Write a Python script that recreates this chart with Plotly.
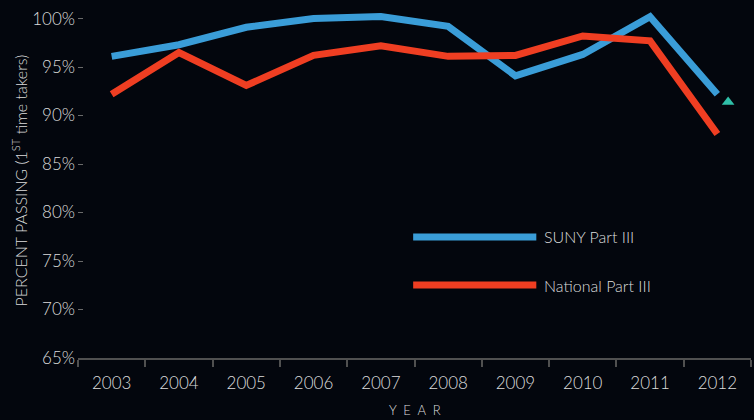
import plotly.graph_objects as go

# Data
years = [2003, 2004, 2005, 2006, 2007, 2008, 2009, 2010, 2011, 2012]
suny_pass = [96.1, 97.3, 99.1, 100.0, 100.2, 99.2, 94.1, 96.3, 100.2, 92.2]
national_pass = [92.2, 96.5, 93.1, 96.2, 97.2, 96.1, 96.2, 98.2, 97.7, 88.1]
marker_year = [2012]
marker_pass = [91.4]
y_ticks = [65, 70, 75, 80, 85, 90, 95, 100]
suny_name = "SUNY Part III"
national_name = "National Part III"

BG = "#03060d"
BLUE = "#3a9dd8"
RED = "#ef3e22"
TEAL = "#2fbfa8"
TEXT = "#dcdcdc"
FONT = "Lato"

fig = go.Figure()

fig.add_trace(go.Scatter(
    x=years, y=suny_pass, mode="lines", name=suny_name,
    line=dict(color=BLUE, width=7)
))
fig.add_trace(go.Scatter(
    x=years, y=national_pass, mode="lines", name=national_name,
    line=dict(color=RED, width=7)
))
# small triangle sits just right of the 2012 point
fig.add_trace(go.Scatter(
    x=[y + 0.16 for y in marker_year], y=marker_pass, mode="markers",
    marker=dict(symbol="triangle-up", size=11, color=TEAL),
    showlegend=False
))

# Legend drawn by hand (long line samples)
legend_items = [(suny_name, BLUE, 0.342), (national_name, RED, 0.206)]
for name, color, ypos in legend_items:
    fig.add_shape(type="line", xref="paper", yref="paper",
                  x0=0.498, x1=0.681, y0=ypos, y1=ypos,
                  line=dict(color=color, width=7))
    fig.add_annotation(text=name, xref="paper", yref="paper",
                       x=0.690, y=ypos, xanchor="left", yanchor="middle",
                       showarrow=False,
                       font=dict(family=FONT, size=16, color=TEXT, weight=300))

# Axis titles
fig.add_annotation(text="PERCENT PASSING (1<sup>ST</sup> time takers)",
                   xref="paper", yref="paper", x=0, y=0.5, xshift=-71,
                   textangle=-90, showarrow=False,
                   font=dict(family=FONT, size=16, color=TEXT, weight=300))
fig.add_annotation(text="Y  E  A  R", xref="paper", yref="paper",
                   x=0.5, y=0, yshift=-52, yanchor="middle",
                   showarrow=False,
                   font=dict(family=FONT, size=13, color=TEXT, weight=300))

fig.update_layout(
    width=754, height=420,
    margin=dict(l=78, r=3, t=4, b=62),
    paper_bgcolor=BG, plot_bgcolor=BG,
    showlegend=False,
    font=dict(family=FONT, color=TEXT, weight=300),
    xaxis=dict(
        range=[2002.5, 2012.5],
        tickvals=years, ticktext=[str(y) for y in years],
        ticks="", showgrid=False, zeroline=False,
        showline=True, linecolor="#505050", linewidth=1.5,
        tickfont=dict(family=FONT, size=17, color=TEXT, weight=300),
        ticklabelstandoff=9,
        minor=dict(tick0=2002.5, dtick=1, ticks="outside", ticklen=7,
                   tickcolor="#505050", tickwidth=1.5, showgrid=False),
    ),
    yaxis=dict(
        range=[65, 101.5],
        tickvals=y_ticks, ticktext=[f"{v}%" for v in y_ticks],
        ticks="inside", ticklen=5, tickcolor="#6a6a6a", tickwidth=1,
        showgrid=False, zeroline=False, showline=False,
        tickfont=dict(family=FONT, size=17, color=TEXT, weight=300),
        ticklabelstandoff=2,
    ),
)

# drop the page's default body margin so the chart fills the window
fig.write_html(
    "out.html",
    config={"displayModeBar": False},
    post_script="document.body.style.margin='0';"
                f"document.body.style.background='{BG}';",
)
